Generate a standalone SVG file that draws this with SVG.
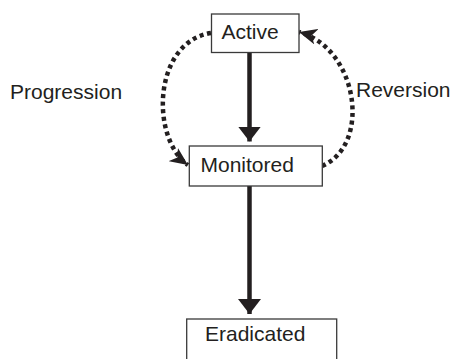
<svg xmlns="http://www.w3.org/2000/svg" width="453" height="359" viewBox="0 0 453 359">
<style>
.box{fill:#fff;stroke:#3a3a3a;stroke-width:1.3}
.lbl{font-family:"Liberation Sans",Arial,sans-serif;font-size:21px;fill:#231f20}
.solid{stroke:#231f20;stroke-width:4.5;fill:none}
.dot{stroke:#231f20;stroke-width:4.5;fill:none;stroke-dasharray:4 3.6}
</style>
<defs>
<marker id="tri" markerUnits="userSpaceOnUse" markerWidth="16" markerHeight="23" refX="15" refY="11.5" orient="auto">
<path d="M0,0 L15,11.5 L0,23 z" fill="#231f20"/>
</marker>
<marker id="notch" markerUnits="userSpaceOnUse" markerWidth="19" markerHeight="16" refX="18" refY="8" orient="auto">
<path d="M0,0 L18,8 L0,16 L5,8 z" fill="#231f20"/>
</marker>
</defs>
<text class="lbl" x="10" y="99">Progression</text>
<text class="lbl" x="356" y="97">Reversion</text>
<g id="connectors">
<path class="dot" d="M211,33 C153,42 150,138 188,165" marker-end="url(#notch)"/>
<path class="dot" d="M322,166 C372,145 358,48 299,32" marker-end="url(#notch)"/>
<line class="solid" x1="249.5" y1="53" x2="249.5" y2="141.5" marker-end="url(#tri)"/>
<line class="solid" x1="249.5" y1="186" x2="249.5" y2="314" marker-end="url(#tri)"/>
</g>
<g id="active">
<rect class="box" x="211.5" y="14" width="87.5" height="38.5"/>
<text class="lbl" x="221.5" y="39">Active</text>
</g>
<g id="monitored">
<rect class="box" x="189.3" y="146" width="133" height="40"/>
<text class="lbl" x="200.5" y="172">Monitored</text>
</g>
<g id="eradicated">
<rect class="box" x="186.7" y="319" width="150" height="45"/>
<text class="lbl" x="205" y="341">Eradicated</text>
</g>
</svg>
